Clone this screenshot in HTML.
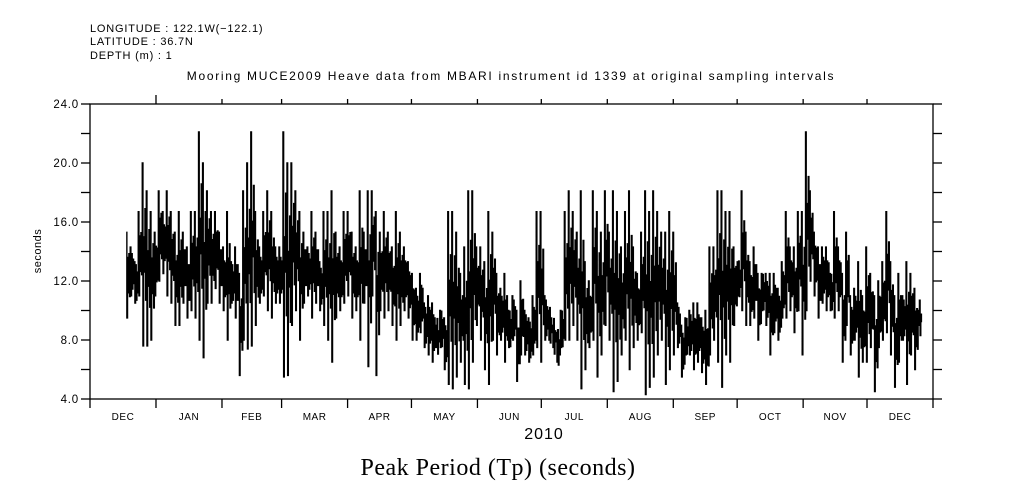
<!DOCTYPE html>
<html><head><meta charset="utf-8"><style>
html,body{margin:0;padding:0;background:#fff;}
svg{display:block;font-family:"Liberation Sans",sans-serif;}
</style></head><body>
<svg id="chart" width="1009" height="504" viewBox="0 0 1009 504">
<g font-size="11" fill="#000" letter-spacing="0.8">
<text x="90" y="32">LONGITUDE : 122.1W(−122.1)</text>
<text x="90" y="45">LATITUDE : 36.7N</text>
<text x="90" y="59">DEPTH (m) : 1</text>
</g>
<text x="511" y="80" font-size="12" letter-spacing="1.7" text-anchor="middle">Mooring MUCE2009 Heave data from MBARI instrument id 1339 at original sampling intervals</text>
<text transform="translate(41,251) rotate(-90)" font-size="11" letter-spacing="0.5" text-anchor="middle">seconds</text>
<text x="544" y="439" font-size="16" letter-spacing="1" text-anchor="middle">2010</text>
<text x="498" y="475" font-size="24" letter-spacing="0.5" text-anchor="middle" font-family="'Liberation Serif',serif">Peak Period (Tp) (seconds)</text>
<g id="axes"></g>
<g id="series"></g>
</svg>
<script>
const monthLabels=["DEC","JAN","FEB","MAR","APR","MAY","JUN","JUL","AUG","SEP","OCT","NOV","DEC"];
const monthDays=[31,31,28,31,30,31,30,31,31,30,31,30,31];
const yTicks=[4,8,12,16,20,24];
const hiVals=[15.3,14.3,13.3,16.7,20,18.1,16.7,15.3,18.1,16.7,
18.1,16.7,15.3,16.7,15.3,14.3,16.7,16.7,22.1,20,
18.1,16.7,16.7,15.3,14.3,16.7,13.3,14.3,12.5,18.1,
20,22.1,16.7,14.3,16.7,18.1,16.7,14.3,14.3,22.1,
20,20,18.1,16.7,15.3,14.3,16.7,15.3,13.3,16.7,
16.7,18.1,15.3,14.3,16.7,16.7,15.3,14.3,18.1,15.3,
18.1,18.1,16.7,15.3,16.7,15.3,14.3,16.7,15.3,14.3,
13.3,12.5,11.5,12.5,10.5,11,10.5,9,10,9.5,
16.7,16.7,15.3,12.5,14.3,18.1,18.1,14.3,14.3,13.3,
16.7,15.3,12.5,11.5,12.5,10,11,10,12,10,
9.5,11,16.7,16.7,11,10,9,8.5,10,16.7,
18.1,16.7,15.3,18.1,13.3,12,18.1,16.7,15.3,18.1,
15.3,18.1,16.7,14.3,16.7,18.1,14.3,12.5,15.3,18.1,
16.7,18.1,16.7,15.3,15.3,16.7,15.3,10.5,9,9.5,
10,10.5,10.5,9.5,10,14.3,14.3,18.1,18.1,16.7,
16.7,14.3,13.3,18.1,15.3,13.3,14.3,12.5,12.5,12.5,
12.5,12.5,11.5,13.3,16.7,14.3,14.3,16.7,16.7,22.1,
18.1,15.3,14.3,14.3,14.3,12.5,16.7,14.3,12.5,15.3,
11,11.5,13.3,11,14.3,12.5,11,12,13.3,16.7,
13.3,11,12.5,11,13.3,12.5,11.5,10];
const loVals=[9.5,11,10.5,11,7.6,7.6,8,11,12,12.5,
11,10.5,9,9,10.5,9.5,10,9.5,8,6.8,
10.5,10.5,11.5,10.5,10,8,10.5,9.5,5.6,8,
7.4,7.6,9,10.5,11,10,9.5,10.5,10.5,5.5,
5.6,9,10,8,10.5,11,9.5,10.5,10,9,
8,6.5,9.5,10,10.5,11,9.5,10,8,10.5,
6.2,11,5.6,10,9.5,10,9,8,9,10,
9.5,8,8,8.5,7.5,7,6.5,7.5,7.5,6,
5,4.7,5.5,6.5,5,4.7,6.5,9,8,6,
5,8,7,8,6.5,7.5,8,5.2,7,7,
6.5,7,7.5,6.5,8,8,7.5,6.5,7.5,8,
8,9,8,4.7,6,7.5,8,5.5,7,9,
8,4.5,5.2,7,8,6,7.5,8,8.5,4.3,
4.8,5.5,7,8,5,6,7,7.5,5.5,7,
7,6,6.5,5.8,5,7,8,6.5,4.8,7,
6.5,9,11,10,9,9,9.5,8,10,9,
7,8.5,8,9.5,9.5,10,8.5,10,7,10,
12,11,9.5,10.5,10,10,9.5,10,6.5,9,
7,8,5.5,6.5,6.5,7.5,4.5,7.5,8,8.5,
7,4.8,6.5,8,5,7,6,9];

const L=90,R=933,T=104,B=399,YMIN=4,YMAX=24;
const totalDays=monthDays.reduce((a,b)=>a+b,0);
const xDay=d=>L+d*(R-L)/totalDays;
const yVal=v=>B-(v-YMIN)*(B-T)/(YMAX-YMIN);
const dataStartDay=17, dataEndDay=389;
const xBin=i=>xDay(dataStartDay+i*(dataEndDay-dataStartDay)/(hiVals.length-1));
const NS="http://www.w3.org/2000/svg";
const axes=document.getElementById('axes');
const series=document.getElementById('series');
function mk(tag,attrs,parent){const e=document.createElementNS(NS,tag);for(const k in attrs)e.setAttribute(k,attrs[k]);parent.appendChild(e);return e;}

const frame=mk('rect',{x:L,y:T,width:R-L,height:B-T,fill:'none',stroke:'#000','stroke-width':1.3},axes);



let d=0;
for(let m=0;m<=monthDays.length;m++){
  const x=xDay(d);
  const tb=mk('line',{x1:x,y1:B,x2:x,y2:B+9,stroke:'#000','stroke-width':1.3},axes);
  
  
  if(m>0&&m<monthDays.length){
    const tt=mk('line',{x1:x,y1:T,x2:x,y2:T-(m===1?9:5),stroke:'#000','stroke-width':1.3},axes);
    
    
  }
  if(m<monthDays.length){
    const lbl=mk('text',{x:xDay(d+monthDays[m]/2),y:B+21,'font-size':10,'text-anchor':'middle','letter-spacing':0.5},axes);
    lbl.textContent=monthLabels[m];
    
    
    d+=monthDays[m];
  }
}
for(let v=YMIN;v<=YMAX;v+=2){
  const y=yVal(v);
  const tl=mk('line',{x1:L-9,y1:y,x2:L,y2:y,stroke:'#000','stroke-width':1.3},axes);
  
  
  const tr=mk('line',{x1:R,y1:y,x2:R+9,y2:y,stroke:'#000','stroke-width':1.3},axes);
  
  
}
yTicks.forEach(v=>{
  const t=mk('text',{x:L-11,y:yVal(v)+4,'font-size':11.5,'text-anchor':'end','letter-spacing':0.8},axes);
  t.textContent=v.toFixed(1);
  
  
});

let dstr='';
for(let i=0;i<hiVals.length;i++){
  const x=xBin(i), step=(i<hiVals.length-1?xBin(i+1)-x:4);
  const hi=hiVals[i], lo=loVals[i], mid=(hi+lo)/2;
  const seq=[hi, lo, mid+1.2, mid-1.2, (hi+mid)/2, (lo+mid)/2];
  seq.forEach((v,k)=>{
    const sx=(x+step*k/seq.length).toFixed(2);
    dstr+=(dstr?'L':'M')+sx+','+yVal(v).toFixed(1);
    dstr+='L'+(x+step*(k+1)/seq.length).toFixed(2)+','+yVal(v).toFixed(1);
  });
}
const line=mk('path',{d:dstr,fill:'none',stroke:'#000','stroke-width':1.4,'stroke-linejoin':'miter'},series);


</script>
</body></html>
